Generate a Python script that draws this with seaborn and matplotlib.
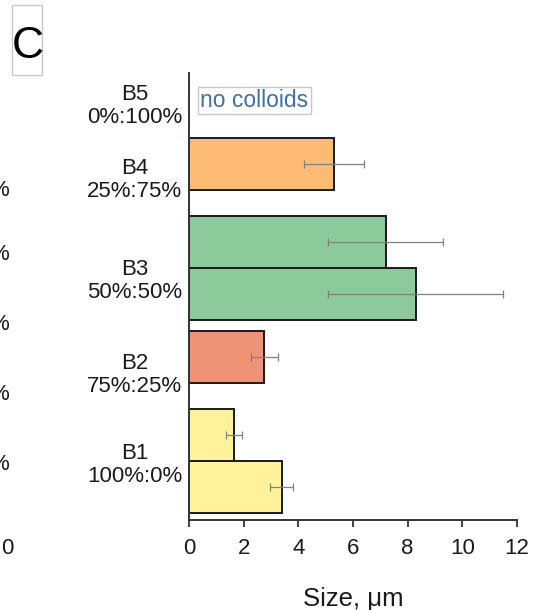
"""
plot.py
-------
Panel C: particle size per binder blend (horizontal bars with error bars).
"""

import matplotlib

matplotlib.use("Agg")
import matplotlib.pyplot as plt
import pandas as pd
import seaborn as sns
from matplotlib.patches import Rectangle

# ---------------------------------------------------------------------------
# Data
# ---------------------------------------------------------------------------

groups = ["B1", "B1", "B2", "B3", "B3", "B4"]
sizes = [3.40, 1.65, 2.75, 8.30, 7.20, 5.30]
errors = [0.42, 0.30, 0.50, 3.20, 2.10, 1.10]

row_labels = [
    "B1\n100%:0%",
    "B2\n75%:25%",
    "B3\n50%:50%",
    "B4\n25%:75%",
    "B5\n0%:100%",
]
x_ticks = [0, 2, 4, 6, 8, 10, 12]
empty_note = "no colloids"

# layout: vertical slot of each bar and of each row label (bar height = 1)
bar_pos = [0.64, 1.64, 3.13, 4.35, 5.35, 6.85]
label_pos = [1.12, 2.85, 4.66, 6.60, 8.03]

colours = {
    "B1": "#FFF29B",
    "B2": "#EF9377",
    "B3": "#8CC99B",
    "B4": "#FDBB76",
}

# ---------------------------------------------------------------------------
# Plot
# ---------------------------------------------------------------------------

sns.set_theme(style="ticks")
plt.rcParams["font.family"] = ["Liberation Sans", "DejaVu Sans"]

df = pd.DataFrame({"group": groups, "size": sizes, "err": errors, "pos": bar_pos})

fig = plt.figure(figsize=(5.33, 6.10), dpi=100)
ax = fig.add_axes([0.3546, 0.1475, 0.6154, 0.7328])

sns.barplot(
    data=df,
    x="size",
    y="pos",
    hue="group",
    palette=colours,
    orient="h",
    native_scale=True,
    dodge=False,
    width=1.0,
    edgecolor="#1a1a1a",
    linewidth=1.4,
    saturation=1,
    errorbar=None,
    legend=False,
    ax=ax,
)
ax.errorbar(
    df["size"],
    df["pos"],
    xerr=df["err"],
    fmt="none",
    ecolor="#808080",
    elinewidth=0.9,
    capsize=3,
    capthick=0.9,
    zorder=5,
)

ax.set_xlim(0, 12)
ax.set_ylim(0, 8.6)
ax.set_xticks(x_ticks)
ax.set_xticklabels([str(t) for t in x_ticks], fontsize=16, color="#1a1a1a")
ax.set_yticks(label_pos)
ax.set_yticklabels(
    row_labels, fontsize=16, color="#1a1a1a", multialignment="center", linespacing=1.1
)
ax.tick_params(axis="y", length=0, pad=5)
ax.tick_params(axis="x", length=5, width=1.3, color="#333333", pad=8)
ax.set_xlabel("Size, μm", fontsize=18.5, labelpad=20, color="#1a1a1a")
ax.set_ylabel("")

for side in ["top", "right"]:
    ax.spines[side].set_visible(False)
for side in ["left", "bottom"]:
    ax.spines[side].set_linewidth(1.4)
    ax.spines[side].set_color("#333333")

# note in the empty B5 row
ax.text(
    0.42,
    8.07,
    empty_note,
    fontsize=16.5,
    color="#3f6fa3",
    ha="left",
    va="center",
    bbox=dict(boxstyle="square,pad=0.1", facecolor="white", edgecolor="#c8c8c8", lw=1),
)

# panel letter in its frame
fig.patches.append(
    Rectangle(
        (12 / 533, 1 - 75 / 610),
        30 / 533,
        70 / 610,
        transform=fig.transFigure,
        facecolor="white",
        edgecolor="#c8c8c8",
        linewidth=1,
    )
)
fig.text(27.5 / 533, 1 - 47 / 610, "C", fontsize=32, ha="center", va="center", color="black")

# cut-off pieces of the neighbouring panel on the left edge
for y_px in [190, 255, 325, 395, 465]:
    fig.text(9 / 533, 1 - y_px / 610, "%", fontsize=16, ha="right", va="center", color="#1a1a1a")
fig.text(13 / 533, 1 - 548 / 610, "0", fontsize=16, ha="right", va="center", color="#1a1a1a")

fig.savefig("out.png", dpi=100)
plt.close(fig)
